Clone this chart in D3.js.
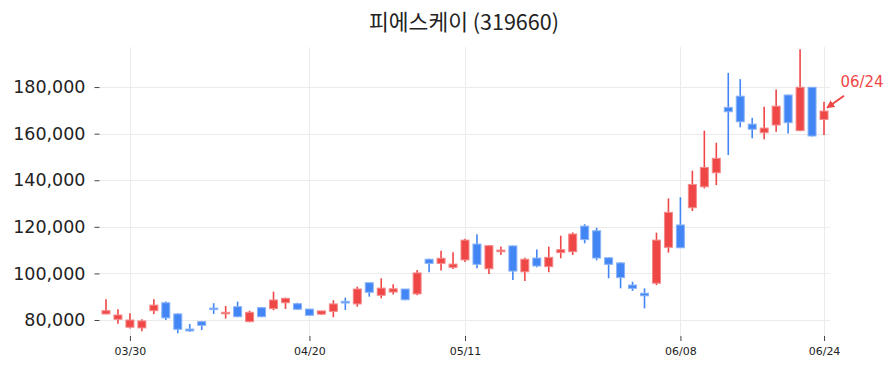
<!DOCTYPE html>
<html>
<head>
<meta charset="utf-8">
<script src="https://cdn.jsdelivr.net/npm/d3@7"></script>
<style>
  html, body { margin: 0; padding: 0; background: #fff; }
  svg { display: block; }
</style>
</head>
<body>
<svg id="chart" width="895" height="373"></svg>
<script>
const title = "피에스케이 (319660)";
const dates = ["03/28","03/29","03/30","03/31","04/03","04/04","04/05","04/06","04/07","04/10",
  "04/11","04/12","04/13","04/14","04/17","04/18","04/19","04/20","04/21","04/24",
  "04/25","04/26","04/27","04/28","05/02","05/03","05/04","05/08","05/09","05/10",
  "05/11","05/12","05/15","05/16","05/17","05/18","05/19","05/22","05/23","05/24",
  "05/25","05/26","05/30","05/31","06/01","06/02","06/05","06/07","06/08","06/09",
  "06/12","06/13","06/14","06/15","06/16","06/19","06/20","06/21","06/22","06/23","06/24"];
const open  = [82600,80300,76900,76600,84000,87400,82600,76100,79300,85100,
  82700,85700,79300,85300,84900,87400,87000,84700,82500,83700,
  88000,86900,96000,90600,92000,93300,91200,106100,104300,102600,
  105800,112600,102000,109300,111800,100700,106600,102900,108900,109300,
  120300,118300,106700,104500,95000,91500,95800,111200,120800,128200,
  137200,143200,171300,176100,164100,160400,163700,176600,161300,179900,166100];
const high  = [88900,84600,82900,80300,88900,87900,82900,78300,79600,87200,
  86000,87900,84000,85600,92200,89600,87400,84700,83900,88500,
  89600,94300,96000,97900,95300,93300,101500,106300,109700,109100,
  114900,116800,112100,111500,111900,106700,110300,111500,116200,117600,
  121100,119600,106900,104900,96400,93600,117500,132200,132700,144100,
  161300,156100,186100,183400,166800,171600,179000,176700,196200,180000,173700];
const low   = [82500,78400,76300,75200,82600,80000,74300,74900,75700,82600,
  80600,81200,79000,81200,84200,84700,84300,82000,82200,81200,
  84300,85700,90000,89300,90900,88500,90600,100500,101300,101900,
  104900,102200,99700,107900,97200,96700,102600,100500,106500,107900,
  112900,105600,97900,93600,92500,85000,95000,108900,111000,126800,
  136500,137900,150800,162700,158000,157600,160800,160100,161000,158800,159400];
const close = [84000,82150,80000,79600,86400,80900,76000,75300,77700,84800,
  83300,81400,83300,81400,88600,89300,84600,82000,83900,86900,
  87300,93300,91900,93700,93400,88700,100200,104300,106500,104000,
  114300,103900,111900,110000,101000,106100,103200,106900,110200,116900,
  114500,106600,103900,98200,93600,90400,114300,126200,111000,138200,
  145500,149400,169400,165100,161900,162400,171800,164700,179900,159000,169700];
const yTicks = [80000,100000,120000,140000,160000,180000];
const xTickLabels = ["03/30","04/20","05/11","06/08","06/24"];
const annotationText = "06/24";

const svg = d3.select("#chart");
const UP = "#ef4646", DOWN = "#4285f4";
const mLeft = 100, mRight = 830, mTop = 47, mBottom = 336;

const x = d3.scaleLinear().domain([-0.5, dates.length - 0.5]).range([mLeft, mRight]);
const y = d3.scaleLinear().domain([72700, 197200]).range([mBottom + 1, mTop]);

// title
svg.append("text").attr("x", (mLeft + mRight) / 2 - 1).attr("y", 30)
  .attr("text-anchor", "middle")
  .attr("font-family", "'Noto Sans CJK KR', 'Noto Sans', sans-serif")
  .attr("font-size", 21.5).attr("fill", "#222").text(title);

// gridlines
const tickIdx = xTickLabels.map(l => dates.indexOf(l));
svg.append("g").selectAll("line").data(yTicks).join("line")
  .attr("x1", mLeft).attr("x2", mRight)
  .attr("y1", d => Math.round(y(d)) + 0.5).attr("y2", d => Math.round(y(d)) + 0.5)
  .attr("stroke", "#ebebeb").attr("stroke-width", 1);
svg.append("g").selectAll("line").data(tickIdx).join("line")
  .attr("y1", mTop).attr("y2", mBottom)
  .attr("x1", d => Math.round(x(d)) + 0.5).attr("x2", d => Math.round(x(d)) + 0.5)
  .attr("stroke", "#ebebeb").attr("stroke-width", 1);

// y axis
const yAxis = d3.axisLeft(y).tickValues(yTicks).tickSize(5).tickPadding(9)
  .tickFormat(d3.format(","));
const gy = svg.append("g").attr("transform", `translate(${mLeft - 0.5},0)`).call(yAxis);
gy.select(".domain").remove();
gy.selectAll(".tick line").attr("stroke", "#444");
gy.selectAll(".tick text").attr("font-family", "'DejaVu Sans', sans-serif")
  .attr("font-size", 17.5).attr("fill", "#222");

// x axis
const xAxis = d3.axisBottom(x).tickValues(tickIdx).tickSize(5).tickPadding(6)
  .tickFormat(i => dates[i]);
const gx = svg.append("g").attr("transform", `translate(0,${mBottom})`).call(xAxis);
gx.select(".domain").remove();
gx.selectAll(".tick line").attr("stroke", "#444");
gx.selectAll(".tick text").attr("font-family", "'DejaVu Sans', sans-serif")
  .attr("font-size", 11).attr("fill", "#222");

// candles
const bw = 8;
const candles = svg.append("g").selectAll("g").data(dates.map((d, i) => i)).join("g");
candles.append("line")
  .attr("x1", i => x(i)).attr("x2", i => x(i))
  .attr("y1", i => y(high[i])).attr("y2", i => y(low[i]))
  .attr("stroke", i => close[i] >= open[i] ? UP : DOWN).attr("stroke-width", 1.6);
candles.append("rect")
  .attr("x", i => x(i) - bw / 2).attr("width", bw)
  .attr("y", i => y(Math.max(open[i], close[i])))
  .attr("height", i => Math.max(1.5, Math.abs(y(open[i]) - y(close[i]))))
  .attr("fill", i => close[i] >= open[i] ? UP : DOWN)
  .attr("stroke", i => close[i] >= open[i] ? "#f58a8a" : "#8ab4f8")
  .attr("stroke-width", 1);

// annotation
const li = dates.indexOf(annotationText);
const tipX = x(li) + 3, tipY = y(high[li]) + 6;
const defs = svg.append("defs");
defs.append("marker").attr("id", "arr").attr("viewBox", "0 0 10 10")
  .attr("refX", 9).attr("refY", 5).attr("markerWidth", 4).attr("markerHeight", 4)
  .attr("orient", "auto")
  .append("path").attr("d", "M0,0 L10,5 L0,10 z").attr("fill", UP);
svg.append("line").attr("x1", tipX + 17).attr("y1", tipY - 12)
  .attr("x2", tipX).attr("y2", tipY)
  .attr("stroke", UP).attr("stroke-width", 2).attr("marker-end", "url(#arr)");
svg.append("text").attr("x", tipX + 35).attr("y", tipY - 21)
  .attr("text-anchor", "middle")
  .attr("font-family", "'DejaVu Sans', sans-serif").attr("font-size", 15)
  .attr("fill", UP).text(annotationText);
</script>
</body>
</html>
